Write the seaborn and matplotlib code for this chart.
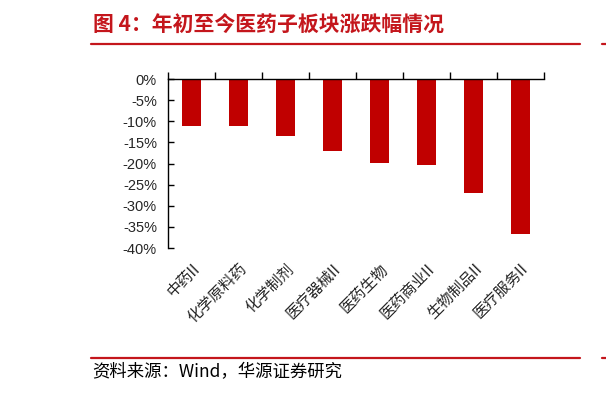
import matplotlib
matplotlib.use("Agg")
import matplotlib.pyplot as plt
import seaborn as sns
import pandas as pd
import numpy as np
from matplotlib.lines import Line2D

categories = ["中药II", "化学原料药", "化学制剂", "医疗器械II", "医药生物", "医药商业II", "生物制品II", "医疗服务II"]
values = [-11.1, -11.2, -13.5, -17.0, -19.9, -20.4, -27.1, -36.7]
ytick_values = [0, -5, -10, -15, -20, -25, -30, -35, -40]
ytick_labels = ["0%", "-5%", "-10%", "-15%", "-20%", "-25%", "-30%", "-35%", "-40%"]
title = "图 4：年初至今医药子板块涨跌幅情况"
source = "资料来源：Wind，华源证券研究"

sns.set_style("white")
plt.rcParams['font.family'] = ['Noto Sans CJK SC', 'DejaVu Sans']

W, H = 606, 396
fig = plt.figure(figsize=(W / 100, H / 100), dpi=100)
ax = fig.add_axes([168 / W, 1 - 248 / H, (544 - 168) / W, (248 - 79) / H])

df = pd.DataFrame({"cat": categories, "val": values})
sns.barplot(data=df, x="cat", y="val", color="#C00000", width=0.4, ax=ax,
            saturation=1, edgecolor="none")

ax.set_xlim(-0.5, len(categories) - 0.5)
ax.set_ylim(-40, 0)
ax.set_xlabel("")
ax.set_ylabel("")

for s in ["right", "bottom"]:
    ax.spines[s].set_visible(False)
for s in ["top", "left"]:
    ax.spines[s].set_visible(True)
    ax.spines[s].set_color("black")
    ax.spines[s].set_linewidth(1.0)

ax.set_yticks(ytick_values)
ax.set_yticklabels(ytick_labels, fontfamily=["Liberation Sans", "DejaVu Sans"], fontsize=10.5)
ax.tick_params(axis="y", direction="in", length=4, width=1, color="black", pad=8, left=True)

ax.set_xticks(range(len(categories)))
ax.set_xticklabels(categories, rotation=45, ha="right", rotation_mode="anchor", fontsize=11)
ax.set_xticks(np.arange(-0.5, len(categories), 1.0), minor=True)
ax.tick_params(axis="x", which="major", length=0, bottom=True, top=False, pad=9)
ax.tick_params(axis="x", which="minor", top=True, bottom=False, direction="out",
               length=5, width=1, color="black")

red = "#C4161C"
fig.text(93 / W, 1 - 25 / H, title, color=red, fontsize=15, fontweight="bold",
         ha="left", va="center")
fig.add_artist(Line2D([91 / W, 580 / W], [1 - 44 / H, 1 - 44 / H], color=red, lw=1.6))
fig.add_artist(Line2D([602 / W, 1.0], [1 - 44 / H, 1 - 44 / H], color=red, lw=1.6))
fig.add_artist(Line2D([91 / W, 580 / W], [1 - 358 / H, 1 - 358 / H], color=red, lw=1.6))
fig.add_artist(Line2D([602 / W, 1.0], [1 - 358 / H, 1 - 358 / H], color=red, lw=1.6))
fig.text(92 / W, 1 - 372 / H, source, color="black", fontsize=12.5, ha="left", va="center")

fig.savefig("out.png", dpi=100)
